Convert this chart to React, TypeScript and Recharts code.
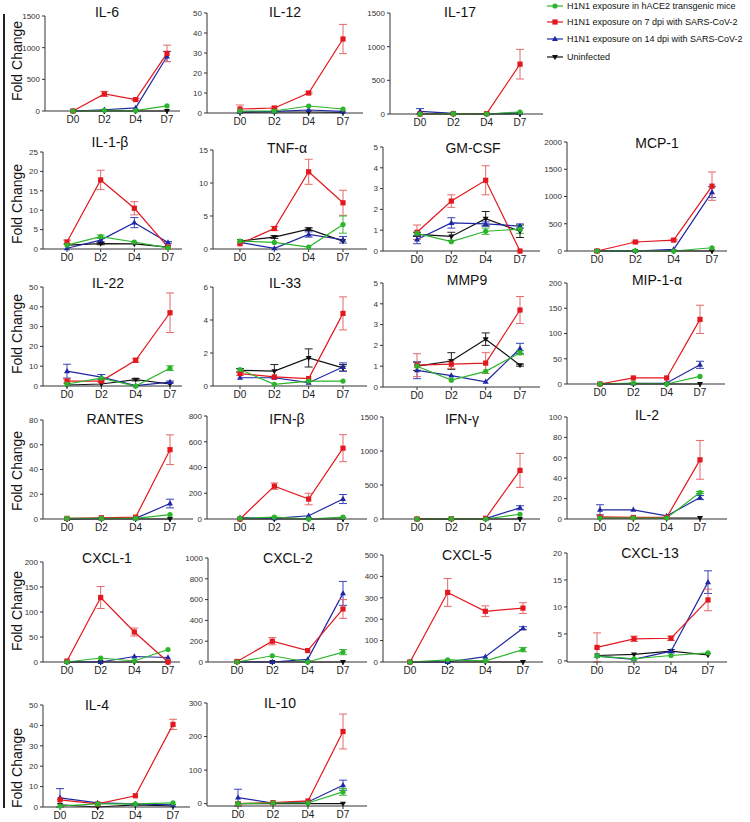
import React from 'react';
import { LineChart, Line, XAxis, YAxis, ErrorBar } from 'recharts';

const DAYS = ['D0', 'D2', 'D4', 'D7'];

// every value table: rows are green, red, blue, black series
const IL6 = [[0, 10, 5, 80], [0, 270, 180, 910], [0, 20, 50, 860], [0, 0, 0, 0]];
const IL6_ERR = [[0, 0, 0, 0], [0, 40, 15, 130], [0, 0, 0, 80], [0, 0, 0, 0]];
const IL12 = [[1, 1, 3.5, 2], [2, 2.5, 10, 37], [0.5, 0.8, 1.5, 0.8], [0.3, 0.5, 0.5, 0.3]];
const IL12_ERR = [[0, 0, 0, 0], [2, 0.5, 0.5, 7.3], [0, 0, 0, 0], [0, 0, 0, 0]];
const IL17 = [[0, 5, 0, 30], [0, 5, 5, 740], [40, 10, 0, 20], [0, 0, 0, 0]];
const IL17_ERR = [[0, 0, 0, 0], [0, 0, 0, 220], [40, 0, 0, 0], [0, 0, 0, 0]];
const IL1B = [[1, 3.2, 1.8, 0.3], [1.8, 17.8, 10.5, 0.5], [0.2, 2.3, 6.8, 1.7], [1, 1.4, 1.3, 0.5]];
const IL1B_ERR = [[0, 0.4, 0, 0], [0.5, 2.5, 1.7, 0], [0, 0.5, 1.3, 0.2], [0, 0.3, 0, 0]];
const TNFA = [[1.2, 1, 0.3, 3.7], [0.8, 3.1, 11.7, 7], [1, 0.1, 2.2, 1.4], [1.2, 1.8, 3, 1.2]];
const TNFA_ERR = [[0, 0, 0, 1.3], [0, 0.3, 1.9, 1.9], [0, 0, 0.4, 0.5], [0, 0.2, 0.2, 0]];
const GMCSF = [[0.85, 0.45, 0.95, 1.05], [0.9, 2.4, 3.4, 0], [0.55, 1.35, 1.3, 1.2], [0.8, 0.7, 1.55, 0.95]];
const GMCSF_ERR = [[0, 0, 0.15, 0.2], [0.35, 0.3, 0.7, 0], [0.2, 0.25, 0.1, 0.1], [0.1, 0.2, 0.35, 0.3]];
const MCP1 = [[0, 5, 0, 60], [0, 165, 200, 1190], [0, 0, 30, 1080], [0, 0, 0, 0]];
const MCP1_ERR = [[0, 0, 0, 0], [0, 15, 15, 260], [0, 0, 0, 100], [0, 0, 0, 0]];
const IL22 = [[1, 4, 0, 9], [2.5, 2.5, 13, 37], [7.5, 4.5, 0.2, 2], [0.5, 1, 3.2, 1]];
const IL22_ERR = [[0, 0, 0, 1.2], [1, 0.5, 1, 10], [3.5, 1.3, 0, 0.5], [0, 0, 0.6, 0]];
const IL33 = [[1, 0.1, 0.3, 0.3], [0.75, 0.55, 0.45, 4.4], [0.5, 0.5, 0.2, 1.15], [0.95, 0.9, 1.7, 1.1]];
const IL33_ERR = [[0, 0, 0, 0], [0.1, 0, 0, 1], [0, 0, 0, 0.25], [0.1, 0.4, 0.55, 0.2]];
const MMP9 = [[1, 0.33, 0.75, 1.65], [1.05, 1.1, 1.15, 3.7], [0.8, 0.55, 0.25, 1.85], [1, 1.25, 2.3, 1.05]];
const MMP9_ERR = [[0, 0, 0, 0.1], [0.55, 0.2, 0.5, 0.65], [0.4, 0, 0, 0.25], [0.2, 0.4, 0.3, 0.05]];
const MIP1A = [[0, 2, 0, 15], [0, 12, 12, 128], [0, 1, 2, 38], [0, 0, 0, 0]];
const MIP1A_ERR = [[0, 0, 0, 0], [0, 0, 0, 28], [0, 0, 0, 7], [0, 0, 0, 0]];
const RANTES = [[0.5, 0.5, 0.5, 3.5], [0.5, 1, 1.5, 56], [0, 0.5, 0.5, 12.5], [0, 0, 0, 0]];
const RANTES_ERR = [[0, 0, 0, 0], [0, 0, 0, 12], [0, 0, 0, 3.5], [0, 0, 0, 0]];
const IFNB = [[5, 15, 0, 15], [0, 255, 155, 550], [10, 5, 25, 155], [0, 0, 0, 0]];
const IFNB_ERR = [[0, 0, 0, 0], [0, 25, 45, 105], [0, 0, 0, 35], [0, 0, 0, 0]];
const IFNG = [[0, 5, 0, 70], [0, 5, 10, 715], [0, 0, 5, 165], [0, 0, 0, 0]];
const IFNG_ERR = [[0, 0, 0, 0], [0, 0, 0, 250], [0, 0, 0, 30], [0, 0, 0, 0]];
const IL2 = [[1, 1, 1, 26], [2, 1.5, 1.5, 58], [9, 9, 3, 21], [1, 1, 1, 1]];
const IL2_ERR = [[0, 0, 0, 1], [0, 0, 0, 19], [5, 0, 0, 2], [0, 0, 0, 0]];
const CXCL1 = [[0, 8, 2, 25], [2, 129, 60, 0], [0, 0, 11, 9], [0, 0, 0, 0]];
const CXCL1_ERR = [[0, 0, 0, 0], [0, 22, 8, 0], [0, 0, 0, 0], [0, 0, 0, 0]];
const CXCL2 = [[0, 60, 0, 95], [5, 200, 110, 510], [0, 0, 25, 660], [0, 0, 0, 0]];
const CXCL2_ERR = [[0, 0, 0, 25], [0, 35, 0, 90], [0, 0, 0, 115], [0, 0, 0, 0]];
const CXCL5 = [[0, 10, 5, 58], [0, 325, 237, 252], [0, 0, 25, 158], [0, 0, 0, 0]];
const CXCL5_ERR = [[0, 0, 0, 10], [0, 65, 25, 25], [0, 0, 0, 7], [0, 0, 0, 0]];
const CXCL13 = [[0.9, 0.4, 1, 1.5], [2.5, 4.1, 4.2, 11.3], [0.9, 0.3, 1.8, 14.6], [1, 1.2, 1.8, 1.1]];
const CXCL13_ERR = [[0, 0, 0, 0], [2.7, 0.5, 0.4, 2], [0, 0, 0.3, 2.1], [0, 0, 0, 0]];
const IL4 = [[0.5, 1.5, 1.5, 2], [3.5, 1.5, 5.5, 40.5], [4.5, 2, 1.5, 1], [1, 0, 1, 0.5]];
const IL4_ERR = [[0, 0, 0, 0], [0, 0, 0, 2.5], [4.5, 0, 0, 0], [0, 0, 0, 0]];
const IL10 = [[0, 2, 2, 35], [0, 3, 8, 215], [18, 2, 5, 55], [0, 0, 0, 0]];
const IL10_ERR = [[0, 0, 0, 10], [0, 0, 0, 52], [25, 0, 0, 15], [0, 0, 0, 0]];

const LEGEND = [
  'H1N1 exposure in hACE2 transgenic mice',
  'H1N1 exposure on 7 dpi with SARS-CoV-2',
  'H1N1 exposure on 14 dpi with SARS-CoV-2',
  'Uninfected',
];

const GREEN = '#2cb52c';
const RED = '#e3171e';
const BLUE = '#1f27a3';
const BLACK = '#111111';

// idx = row in value tables; drawn black, blue, red, green
const SERIES = [
  { idx: 3, key: 'k', color: BLACK, err: '#222', shape: 'down' },
  { idx: 2, key: 'b', color: BLUE, err: '#3a44b8', shape: 'up' },
  { idx: 1, key: 'r', color: RED, err: '#e46a6a', shape: 'square' },
  { idx: 0, key: 'g', color: GREEN, err: '#3fb93f', shape: 'circle' },
];

type Panel = {
  name: string; vals: number[][]; err: number[][]; ticks: number[];
  x0: number; x1: number; top: number; zero: number; d0: number; d7: number; tx: number; ty: number;
};

const PANELS: Panel[] = [
  { name: 'IL-6', vals: IL6, err: IL6_ERR, ticks: [0, 500, 1000, 1500], x0: 45, x1: 180, top: 16, zero: 111, d0: 73, d7: 167, tx: 107, ty: 12 },
  { name: 'IL-12', vals: IL12, err: IL12_ERR, ticks: [0, 10, 20, 30, 40, 50], x0: 207, x1: 363, top: 13, zero: 113, d0: 240, d7: 343, tx: 285, ty: 12 },
  { name: 'IL-17', vals: IL17, err: IL17_ERR, ticks: [0, 500, 1000, 1500], x0: 390, x1: 543, top: 13, zero: 114, d0: 420, d7: 520, tx: 460, ty: 12 },
  { name: 'IL-1-β', vals: IL1B, err: IL1B_ERR, ticks: [0, 5, 10, 15, 20, 25], x0: 43, x1: 182, top: 152, zero: 249, d0: 67, d7: 168, tx: 110, ty: 142 },
  { name: 'TNF-α', vals: TNFA, err: TNFA_ERR, ticks: [0, 5, 10, 15], x0: 213, x1: 367, top: 150, zero: 249, d0: 240, d7: 343, tx: 287, ty: 148 },
  { name: 'GM-CSF', vals: GMCSF, err: GMCSF_ERR, ticks: [0, 1, 2, 3, 4, 5], x0: 383, x1: 540, top: 147, zero: 251, d0: 417, d7: 520, tx: 473, ty: 148 },
  { name: 'MCP-1', vals: MCP1, err: MCP1_ERR, ticks: [0, 500, 1000, 1500, 2000], x0: 567, x1: 727, top: 142, zero: 251, d0: 597, d7: 712, tx: 657, ty: 143 },
  { name: 'IL-22', vals: IL22, err: IL22_ERR, ticks: [0, 10, 20, 30, 40, 50], x0: 43, x1: 182, top: 287, zero: 386, d0: 67, d7: 170, tx: 108, ty: 283 },
  { name: 'IL-33', vals: IL33, err: IL33_ERR, ticks: [0, 2, 4, 6], x0: 213, x1: 367, top: 287, zero: 386, d0: 240, d7: 343, tx: 285, ty: 283 },
  { name: 'MMP9', vals: MMP9, err: MMP9_ERR, ticks: [0, 1, 2, 3, 4, 5], x0: 383, x1: 540, top: 283, zero: 387, d0: 417, d7: 520, tx: 467, ty: 280 },
  { name: 'MIP-1-α', vals: MIP1A, err: MIP1A_ERR, ticks: [0, 50, 100, 150, 200], x0: 567, x1: 725, top: 283, zero: 384, d0: 600, d7: 700, tx: 657, ty: 280 },
  { name: 'RANTES', vals: RANTES, err: RANTES_ERR, ticks: [0, 20, 40, 60, 80], x0: 43, x1: 193, top: 420, zero: 519, d0: 67, d7: 170, tx: 115, ty: 419 },
  { name: 'IFN-β', vals: IFNB, err: IFNB_ERR, ticks: [0, 200, 400, 600, 800], x0: 207, x1: 367, top: 416, zero: 519, d0: 240, d7: 343, tx: 287, ty: 419 },
  { name: 'IFN-γ', vals: IFNG, err: IFNG_ERR, ticks: [0, 500, 1000, 1500], x0: 383, x1: 540, top: 417, zero: 519, d0: 417, d7: 520, tx: 462, ty: 419 },
  { name: 'IL-2', vals: IL2, err: IL2_ERR, ticks: [0, 20, 40, 60, 80, 100], x0: 567, x1: 727, top: 417, zero: 519, d0: 600, d7: 700, tx: 647, ty: 415 },
  { name: 'CXCL-1', vals: CXCL1, err: CXCL1_ERR, ticks: [0, 50, 100, 150, 200], x0: 43, x1: 180, top: 562, zero: 662, d0: 67, d7: 168, tx: 107, ty: 558 },
  { name: 'CXCL-2', vals: CXCL2, err: CXCL2_ERR, ticks: [0, 200, 400, 600, 800, 1000], x0: 208, x1: 367, top: 558, zero: 662, d0: 237, d7: 343, tx: 288, ty: 558 },
  { name: 'CXCL-5', vals: CXCL5, err: CXCL5_ERR, ticks: [0, 100, 200, 300, 400, 500], x0: 383, x1: 543, top: 555, zero: 662, d0: 410, d7: 523, tx: 467, ty: 555 },
  { name: 'CXCL-13', vals: CXCL13, err: CXCL13_ERR, ticks: [0, 5, 10, 15, 20], x0: 567, x1: 727, top: 553, zero: 662, d0: 597, d7: 708, tx: 650, ty: 553 },
  { name: 'IL-4', vals: IL4, err: IL4_ERR, ticks: [0, 10, 20, 30, 40, 50], x0: 43, x1: 190, top: 705, zero: 807, d0: 60, d7: 173, tx: 97, ty: 705 },
  { name: 'IL-10', vals: IL10, err: IL10_ERR, ticks: [0, 100, 200, 300], x0: 207, x1: 367, top: 703, zero: 806, d0: 238, d7: 343, tx: 280, ty: 703 },
];

// vertical centres of the "Fold Change" labels, one per row
const ROW_MIDS = [61, 204, 334, 471, 611, 768];

const marker = (shape: string, color: string, cx: number, cy: number, key?: any) => {
  if (shape === 'circle') return <circle key={key} cx={cx} cy={cy} r={2.6} fill={color} />;
  if (shape === 'square') return <rect key={key} x={cx - 2.6} y={cy - 2.6} width={5.2} height={5.2} fill={color} />;
  if (shape === 'up') return <path key={key} d={`M${cx},${cy - 3.2}L${cx + 3},${cy + 2}L${cx - 3},${cy + 2}Z`} fill={color} />;
  return <path key={key} d={`M${cx},${cy + 3.2}L${cx + 3},${cy - 2}L${cx - 3},${cy - 2}Z`} fill={color} />;
};

const dotFor = (shape: string, color: string) => (props: any) => {
  const { cx, cy, index } = props;
  if (cx == null || cy == null) return <g key={`d-${index}`} />;
  return marker(shape, color, cx, cy, `d-${index}`);
};

const ChartPanel = ({ p }: { p: Panel }) => {
  const data = DAYS.map((day, i) => {
    const row: any = { day };
    SERIES.forEach((s) => {
      row[s.key] = p.vals[s.idx][i];
      row[s.key + 'E'] = p.err[s.idx][i];
    });
    return row;
  });
  const plotW = p.x1 - p.x0;
  const plotH = p.zero - p.top;
  const max = p.ticks[p.ticks.length - 1];
  return (
    <>
      <div style={{ position: 'absolute', left: p.x0 - 40, top: p.top - 8 }}>
        <LineChart width={40 + plotW + 4} height={8 + plotH + 22} data={data}
          margin={{ top: 8, right: 4, bottom: 0, left: 0 }}>
          <XAxis dataKey="day" interval={0} height={22} tickSize={3}
            padding={{ left: p.d0 - p.x0, right: p.x1 - p.d7 }}
            axisLine={{ stroke: '#333' }} tickLine={{ stroke: '#333' }}
            tick={{ fontSize: 10, fill: '#222' }} />
          <YAxis width={40} domain={[0, max]} ticks={p.ticks} interval={0} tickSize={3}
            axisLine={{ stroke: '#333' }} tickLine={{ stroke: '#333' }}
            tick={{ fontSize: 8, fill: '#333' }} />
          {SERIES.map((s) => (
            <Line key={s.key} dataKey={s.key} stroke={s.color} strokeWidth={1.2}
              dot={dotFor(s.shape, s.color)} activeDot={false} isAnimationActive={false}>
              <ErrorBar dataKey={s.key + 'E'} direction="y" width={4} stroke={s.err} strokeWidth={1} />
            </Line>
          ))}
        </LineChart>
      </div>
      <div style={{ position: 'absolute', left: p.tx, top: p.ty, transform: 'translate(-50%,-50%)', fontSize: 14, whiteSpace: 'nowrap', color: '#111' }}>
        {p.name}
      </div>
    </>
  );
};

export default function App() {
  const colors = [GREEN, RED, BLUE, BLACK];
  const shapes = ['circle', 'square', 'up', 'down'];
  return (
    <div style={{ position: 'absolute', left: 0, top: 0, width: 750, height: 822, background: '#fff', fontFamily: '"Liberation Sans", Arial, sans-serif', overflow: 'hidden' }}>
      <div style={{ position: 'absolute', left: 3, top: 14, width: 2, height: 794, background: '#222' }} />
      {ROW_MIDS.map((y, i) => (
        <div key={i} style={{ position: 'absolute', left: 17, top: y, transform: 'translate(-50%,-50%) rotate(-90deg)', fontSize: 14, whiteSpace: 'nowrap', color: '#111' }}>
          Fold Change
        </div>
      ))}
      {PANELS.map((p) => <ChartPanel key={p.name} p={p} />)}
      {LEGEND.map((label, i) => (
        <div key={label} style={{ position: 'absolute', left: 545, top: [6, 22, 39, 57][i] - 7, height: 14, display: 'flex', alignItems: 'center', fontSize: 9, color: '#111', whiteSpace: 'nowrap' }}>
          <svg width={20} height={10} style={{ marginRight: 2 }}>
            <line x1={2} y1={5} x2={18} y2={5} stroke={colors[i]} strokeWidth={1.2} />
            {marker(shapes[i], colors[i], 10, 5)}
          </svg>
          {label}
        </div>
      ))}
    </div>
  );
}
